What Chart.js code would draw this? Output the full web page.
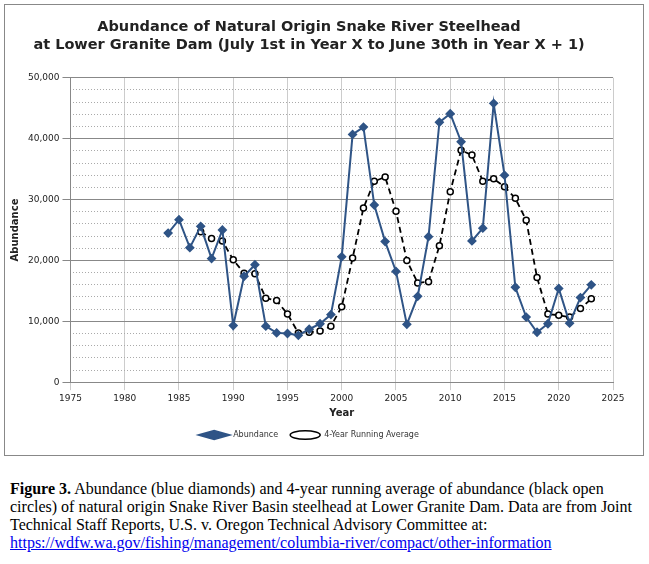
<!DOCTYPE html><html><head><script src="https://cdn.jsdelivr.net/npm/chart.js@4"></script>
<style>body{margin:0;background:#fff;width:649px;height:564px;position:relative;overflow:hidden}
#box{position:absolute;left:4px;top:4px;width:640px;height:452px;border:1px solid #888;box-sizing:border-box}
#cap{position:absolute;left:10px;top:480px;width:630px;font-family:"Liberation Serif",serif;font-size:16px;line-height:18px;color:#000}
a{color:#0000ee}</style></head><body>
<div id="box"><canvas id="c" width="638" height="450"></canvas></div>
<div id="cap"><b>Figure 3.</b> Abundance (blue diamonds) and 4-year running average of abundance (black open circles) of natural origin Snake River Basin steelhead at Lower Granite Dam. Data are from Joint Technical Staff Reports, U.S. v. Oregon Technical Advisory Committee at: <a href="#">https://wdfw.wa.gov/fishing/management/columbia-river/compact/other-information</a></div>
<script>
const years=[1984,1985,1986,1987,1988,1989,1990,1991,1992,1993,1994,1995,1996,1997,1998,1999,2000,2001,2002,2003,2004,2005,2006,2007,2008,2009,2010,2011,2012,2013,2014,2015,2016,2017,2018,2019,2020,2021,2022,2023];
const abundance=[24500,26700,22100,25600,20300,25000,9300,17400,19300,9200,8100,8000,7700,8700,9600,11100,20600,40700,41900,29100,23100,18200,9500,14100,23900,42700,44100,39500,23200,25300,45800,34000,15600,10700,8200,9600,15400,9700,13900,16000];
const avgYears=years.slice(3);
const runningAvg=[24700,23600,23200,20100,17900,17800,13800,13400,11200,8100,8200,8400,9200,12400,20400,28600,33000,33700,28100,20000,16300,16500,22400,31300,38100,37300,33000,33400,32100,30200,26600,17200,11200,11000,10700,12100,13700];
const F="'DejaVu Sans',sans-serif";
new Chart(document.getElementById('c'),{type:'line',data:{datasets:[
{label:'Abundance',data:years.map((x,i)=>({x,y:abundance[i]})),borderColor:'#2f5486',backgroundColor:'#2f5486',borderWidth:2,pointStyle:'rectRot',pointRadius:3.5,tension:0},
{label:'4-Year Running Average',data:avgYears.map((x,i)=>({x,y:runningAvg[i]})),borderColor:'#000',backgroundColor:'#fff',borderWidth:1.8,borderDash:[6,4],pointStyle:'circle',pointRadius:3,pointBorderWidth:1.5,tension:0}]},
options:{animation:false,responsive:false,layout:{padding:{left:0,right:30,top:4,bottom:6}},
plugins:{title:{display:true,text:['Abundance of Natural Origin Snake River Steelhead','at Lower Granite Dam (July 1st in Year X to June 30th in Year X + 1)'],font:{family:F,size:14.5,weight:'bold'},color:'#222',padding:{top:10,bottom:24},lineHeight:1.3},
legend:{position:'bottom',labels:{usePointStyle:true,pointStyleWidth:30,font:{family:F,size:8},color:'#333',padding:12,boxHeight:6}},tooltip:{enabled:false}},
scales:{x:{type:'linear',min:1975,max:2025,ticks:{stepSize:5,font:{family:F,size:9},color:'#222',callback:v=>String(v)},grid:{color:'#ccc'},border:{color:'#888'},title:{display:true,text:'Year',font:{family:F,size:10,weight:'bold'},color:'#222',padding:0}},
y2:{min:0,max:50000,position:'left',ticks:{display:false,stepSize:2000},grid:{color:'#aaa',drawTicks:false},border:{display:false,dash:[1,2]},afterFit:s=>{s.width=0}},
y:{min:0,max:50000,ticks:{stepSize:10000,font:{family:F,size:9},color:'#222',callback:v=>v.toLocaleString('en-US')},grid:{color:'#888'},border:{color:'#888'},title:{display:true,text:'Abundance',font:{family:F,size:10,weight:'bold'},color:'#222'}}}}});
</script></body></html>
